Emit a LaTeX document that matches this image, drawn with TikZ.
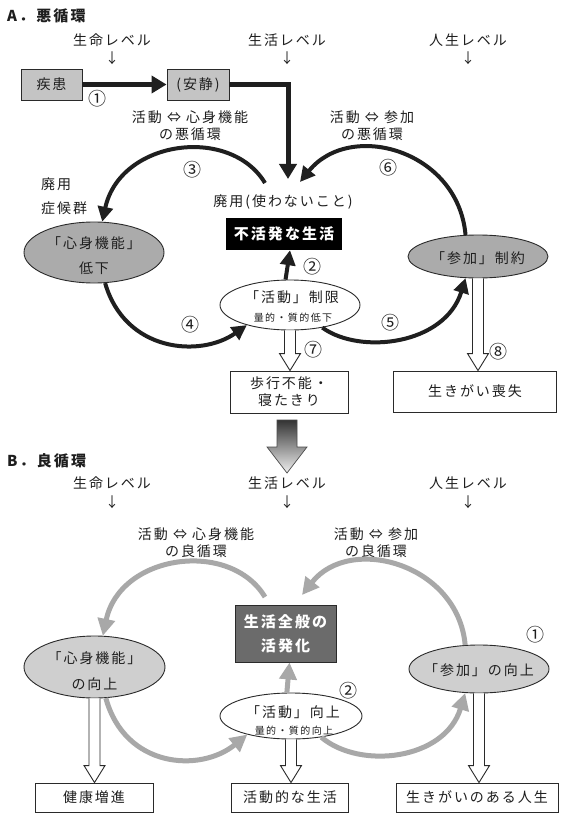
\documentclass[tikz,border=0pt]{standalone}
\usepackage{fontspec}
\setmainfont{Noto Sans CJK JP}[LetterSpace=14]
\usetikzlibrary{arrows.meta,shapes.geometric,calc}
\definecolor{txtc}{HTML}{1E1E1E}
\definecolor{linec}{HTML}{2A2A2A}
\definecolor{boxgray}{HTML}{C4C4C4}
\definecolor{ellgrayA}{HTML}{ABABAB}
\definecolor{ellgrayB}{HTML}{CFCFCF}
\definecolor{darkbox}{HTML}{6B6B6B}
\definecolor{arrgray}{HTML}{A8A8A8}
\tikzset{
  lab/.style={font=\fontsize{14}{17}\selectfont, text=txtc, inner sep=0pt, align=center},
  numlab/.style={font=\fontsize{18}{18}\selectfont, text=txtc, inner sep=0pt},
  smalllab/.style={font=\fontsize{10}{12}\selectfont, text=txtc, inner sep=0pt},
  titlelab/.style={font=\fontsize{15}{17}\selectfont\bfseries, text=txtc, inner sep=0pt, anchor=west},
  boldlab/.style={font=\fontsize{15}{24}\selectfont\bfseries, text=white, inner sep=0pt, align=center},
  graybox/.style={rectangle, draw=linec, line width=0.9pt, fill=boxgray, inner sep=0pt},
  whitebox/.style={rectangle, draw=linec, line width=0.9pt, fill=white, inner sep=0pt},
  ellA/.style={ellipse, draw=linec, line width=0.9pt, fill=ellgrayA, inner sep=0pt},
  ellB/.style={ellipse, draw=linec, line width=0.9pt, fill=ellgrayB, inner sep=0pt},
  ellW/.style={ellipse, draw=linec, line width=0.9pt, fill=white, inner sep=0pt},
  blkarrow/.style={line width=4pt, draw=black!88, -{Triangle[length=15pt,width=15pt]}},
  blkarrowthick/.style={line width=5pt, draw=black!88, line join=miter, -{Triangle[length=15pt,width=17pt]}},
  gryarrow/.style={line width=5pt, draw=arrgray, -{Triangle[length=17pt,width=17pt]}},
  hollowst/.style={draw=linec, fill=white, line width=0.9pt, line join=miter},
}
\newcommand\hollowarrow[2]{%
  \path[hollowst] let \p1=(#1), \p2=(#2) in
    (\x1-5.5pt,\y1) -- (\x1-5.5pt,\y2+17pt) -- (\x1-10.5pt,\y2+17pt) -- (\x1,\y2)
    -- (\x1+10.5pt,\y2+17pt) -- (\x1+5.5pt,\y2+17pt) -- (\x1+5.5pt,\y1);
}
\begin{document}
\begin{tikzpicture}[x=1pt,y=-1pt]
\useasboundingbox (0,0) rectangle (570,821);
\fill[white] (0,0) rectangle (570,821);

% ================= A =================
\node[titlelab] (titleA) at (7,16) {A．悪循環};
\node[lab] (lvA1) at (112,40) {生命レベル};
\node[lab] (dnA1) at (112,58) {↓};
\node[lab] (lvA2) at (287,40) {生活レベル};
\node[lab] (dnA2) at (287,58) {↓};
\node[lab] (lvA3) at (468,40) {人生レベル};
\node[lab] (dnA3) at (468,58) {↓};

\node[graybox, minimum width=61pt, minimum height=31pt, lab] (shikkan) at (51.5,84.5) {疾患};
\node[graybox, minimum width=62pt, minimum height=31pt, lab] (ansei) at (198,84.5) {(安静)};
\node[numlab] (n1) at (97,99) {①};

\node[lab] (cycA1) at (190,126) {活動 ⇔ 心身機能\\の悪循環};
\node[lab] (cycA2) at (372,126) {活動 ⇔ 参加\\の悪循環};

\node[lab, anchor=west] (haiyo1) at (41,184) {廃用};
\node[lab, anchor=west] (haiyo2) at (41,208) {症候群};
\node[lab] (haiyo3) at (283,202) {廃用(使わないこと)};
\coordinate (haiyoTop) at (288,179);
\coordinate (arcAstart) at (265,183);
\coordinate (arcAend) at (300,182);

\node[rectangle, fill=black, inner sep=0pt, minimum width=116pt, minimum height=32pt, boldlab] (blk) at (284,234) {不活発な生活};

\node[ellA, minimum width=140pt, minimum height=61pt] (hlA) at (94,252.5) {};
\node[lab] (hlAt1) at (94,243) {「心身機能」};
\node[lab] (hlAt2) at (94,268) {低下};

\node[ellW, minimum width=140pt, minimum height=50pt] (actA) at (290,305) {};
\node[lab] (actAt1) at (292,297) {「活動」制限};
\node[smalllab] (actAt2) at (293,318) {量的・質的低下};

\node[ellA, minimum width=140pt, minimum height=43pt] (partA) at (478,256.5) {};
\node[lab] (partAt) at (478,258) {「参加」制約};

\node[whitebox, minimum width=118pt, minimum height=42pt, lab] (walk) at (289,392) {歩行不能・\\寝たきり};
\node[whitebox, minimum width=163pt, minimum height=41pt, lab] (ikigaiA) at (475,391.5) {生きがい喪失};

\node[numlab] (n2) at (312,267) {②};
\node[numlab] (n3) at (192,170) {③};
\node[numlab] (n4) at (190,325) {④};
\node[numlab] (n5) at (390,323) {⑤};
\node[numlab] (n6) at (388,168) {⑥};
\node[numlab] (n7) at (313,350) {⑦};
\node[numlab] (n8) at (498,352) {⑧};

% connectors A
\draw[blkarrowthick] (shikkan.east) -- (ansei.west);
\draw[blkarrowthick] (ansei.east) -| (haiyoTop);
\draw[blkarrow] (arcAstart) .. controls (230,125) and (120,140) .. (hlA.75);
\draw[blkarrow] (partA.120) .. controls (458,150) and (350,120) .. (arcAend);
\draw[blkarrow] (hlA.-70) .. controls (125,352) and (200,358) .. (actA.205);
\draw[blkarrow] (actA.-35) .. controls (360,355) and (445,345) .. (partA.240);
\draw[blkarrow] (actA.100) -- ([xshift=6pt]blk.south);
\hollowarrow{actA.south}{walk.north}
\hollowarrow{partA.south}{ikigaiA.north}

% big transition arrow
\shade[top color=black!80, bottom color=black!6]
  (277,420) -- (297,420) -- (297,447) -- (307,447) -- (287,473) -- (267,447) -- (277,447) -- cycle;
\draw[draw=black!70, line width=0.7pt, line join=miter]
  (277,420) -- (297,420) -- (297,447) -- (307,447) -- (287,473) -- (267,447) -- (277,447) -- cycle;

% ================= B =================
\node[titlelab] (titleB) at (7,461) {B．良循環};
\node[lab] (lvB1) at (112,483) {生命レベル};
\node[lab] (dnB1) at (112,502) {↓};
\node[lab] (lvB2) at (287,483) {生活レベル};
\node[lab] (dnB2) at (287,502) {↓};
\node[lab] (lvB3) at (468,483) {人生レベル};
\node[lab] (dnB3) at (468,502) {↓};

\node[lab] (cycB1) at (196,543) {活動 ⇔ 心身機能\\の良循環};
\node[lab] (cycB2) at (376,543) {活動 ⇔ 参加\\の良循環};

\coordinate (arcBstart) at (265,597);
\coordinate (arcBend) at (302,595);

\node[rectangle, draw=linec, line width=0.9pt, fill=darkbox, inner sep=0pt, minimum width=101pt, minimum height=57pt, boldlab] (dbox) at (285.5,633.5) {生活全般の\\活発化};

\node[ellB, minimum width=141pt, minimum height=62pt] (hlB) at (94.5,667) {};
\node[lab] (hlBt1) at (94.5,658) {「心身機能」};
\node[lab] (hlBt2) at (94.5,684) {の向上};

\node[ellW, minimum width=142pt, minimum height=46pt] (actB) at (291,716) {};
\node[lab] (actBt1) at (293,712) {「活動」向上};
\node[smalllab] (actBt2) at (294,731) {量的・質的向上};

\node[ellB, minimum width=140pt, minimum height=48pt] (partB) at (479,669) {};
\node[lab] (partBt) at (479,670) {「参加」の向上};

\node[whitebox, minimum width=118pt, minimum height=29pt, lab] (kenko) at (94,797.5) {健康増進};
\node[whitebox, minimum width=117pt, minimum height=29pt, lab] (katsu) at (290,797.5) {活動的な生活};
\node[whitebox, minimum width=162pt, minimum height=29pt, lab] (ikigaiB) at (477,797.5) {生きがいのある人生};

\node[numlab] (nB1) at (535,635) {①};
\node[numlab] (nB2) at (348,691) {②};

% connectors B
\draw[gryarrow] (arcBstart) .. controls (230,539) and (120,554) .. (hlB.75);
\draw[gryarrow] (partB.120) .. controls (458,564) and (350,534) .. (arcBend);
\draw[gryarrow] (hlB.-70) .. controls (125,768) and (200,773) .. (actB.203);
\draw[gryarrow] (actB.-35) .. controls (360,770) and (445,760) .. (partB.240);
\draw[gryarrow] (actB.100) -- ([xshift=4pt]dbox.south);
\hollowarrow{hlB.south}{kenko.north}
\hollowarrow{actB.south}{katsu.north}
\hollowarrow{partB.south}{ikigaiB.north}
\end{tikzpicture}
\end{document}
